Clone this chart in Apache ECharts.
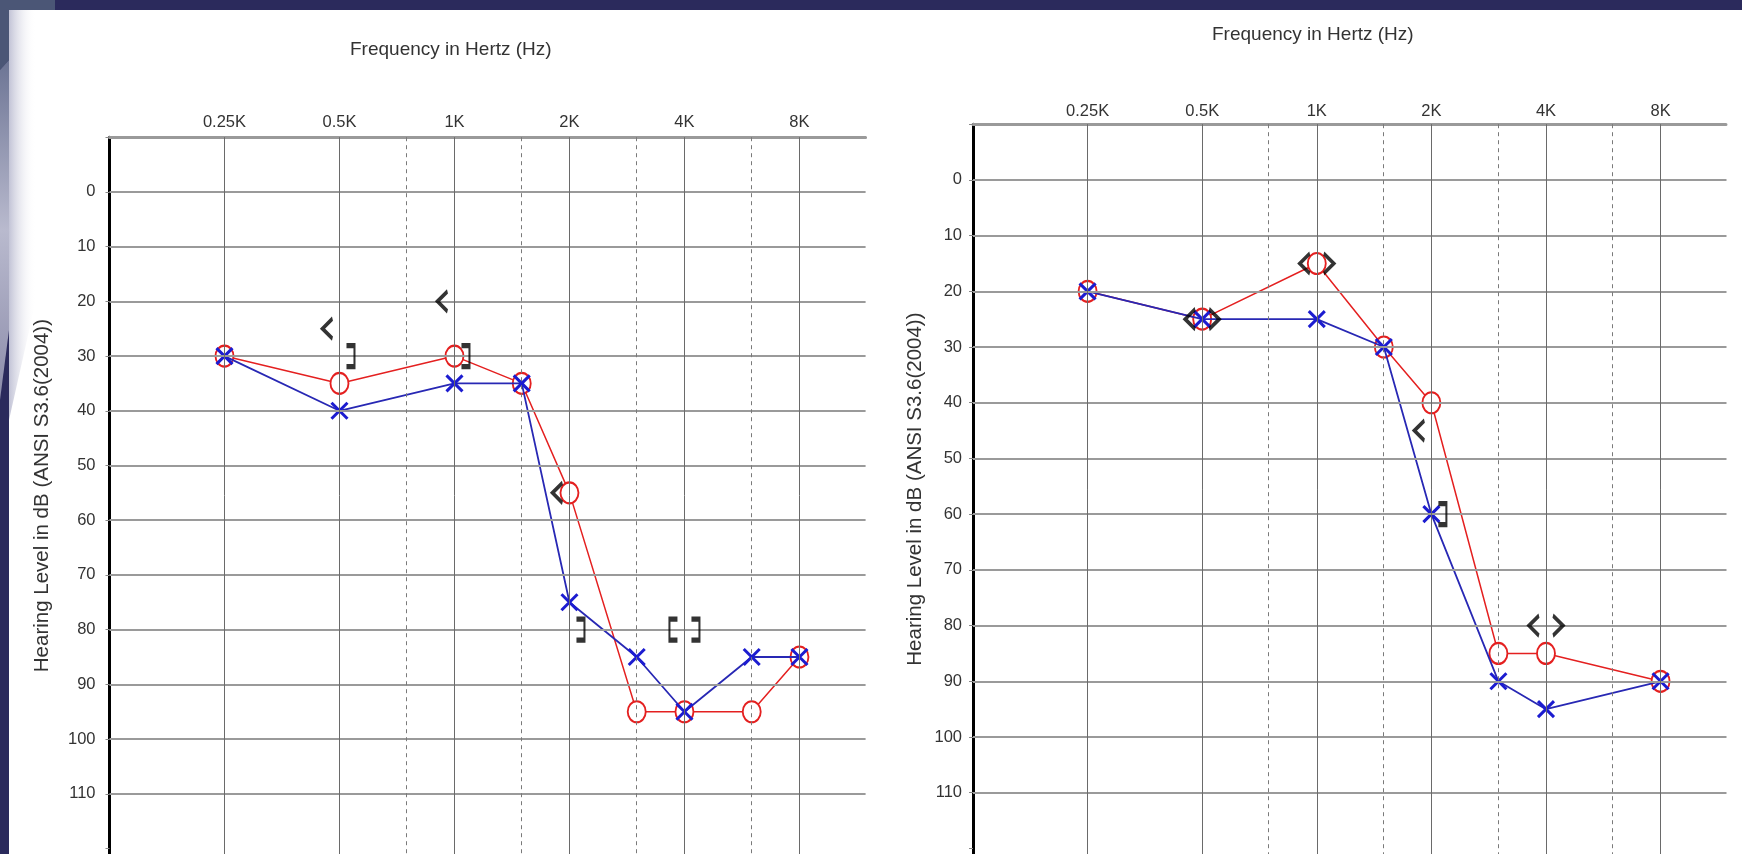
<!DOCTYPE html>
<html><head><meta charset="utf-8">
<script src="https://cdn.jsdelivr.net/npm/echarts@6/dist/echarts.min.js"></script>
<style>html,body{margin:0;padding:0;background:#fff;overflow:hidden}#c{width:1742px;height:854px}</style>
</head><body><div id="c"></div>
<script>
// ---- data ----
const freqTicks = [250, 500, 1000, 2000, 4000, 8000];
const freqHalf = [750, 1500, 3000, 6000];
const dbLevels = [0, 10, 20, 30, 40, 50, 60, 70, 80, 90, 100, 110];
const axisTitleX = 'Frequency in Hertz (Hz)';
const axisTitleY = 'Hearing Level in dB (ANSI S3.6(2004))';

const leftFreqRed = [250, 500, 1000, 1500, 2000, 3000, 4000, 6000, 8000];
const leftRed = [30, 35, 30, 35, 55, 95, 95, 95, 85];
const leftFreqBlue = [250, 500, 1000, 1500, 2000, 3000, 4000, 6000, 8000];
const leftBlue = [30, 40, 35, 35, 75, 85, 95, 85, 85];
const leftBoneFreq = [500, 500, 1000, 1000, 2000, 2000, 4000, 4000];
const leftBoneDb = [25, 30, 20, 30, 55, 80, 80, 80];
const leftBoneMark = ['<', ']', '<', ']', '<', ']', '[', ']'];

const rightFreqRed = [250, 500, 1000, 1500, 2000, 3000, 4000, 8000];
const rightRed = [20, 25, 15, 30, 40, 85, 85, 90];
const rightFreqBlue = [250, 500, 1000, 1500, 2000, 3000, 4000, 8000];
const rightBlue = [20, 25, 25, 30, 60, 90, 95, 90];
const rightBoneFreq = [500, 500, 1000, 1000, 2000, 2000, 4000, 4000];
const rightBoneDb = [25, 25, 15, 15, 45, 60, 80, 80];
const rightBoneMark = ['<', '>', '<', '>', '<', ']', '<', '>'];

// ---- helpers ----
const FMIN = 125, FMAX = 11920;
const oct = f => Math.log2(f / 1000);
const FONT = 'Liberation Sans, Arial, sans-serif';

const boneShape = {
  '<': { path: 'path://M10,0L0,10L10,20', size: [10, 20], dx: -12 },
  '>': { path: 'path://M0,0L10,10L0,20', size: [10, 20], dx: 12 },
  '[': { path: 'path://M8,0L0,0L0,20L8,20', size: [8, 21], dx: -11 },
  ']': { path: 'path://M0,0L8,0L8,20L0,20', size: [8, 21], dx: 11 }
};

function pairs(fs, vs) { return fs.map((f, i) => [oct(f), vs[i]]); }

function gridLines(i) {
  return {
    type: 'line', xAxisIndex: i, yAxisIndex: i, data: [], silent: true, z: 1,
    markLine: {
      silent: true, symbol: ['none', 'none'], label: { show: false }, animation: false,
      emphasis: { disabled: true },
      data: [
        ...dbLevels.map(d => ({ yAxis: d, lineStyle: { color: '#9a9a9a', width: 2, type: 'solid' } })),
        ...freqTicks.map(f => ({ xAxis: oct(f), lineStyle: { color: '#6a6a6a', width: 1, type: 'solid' } })),
        ...freqHalf.map(f => ({ xAxis: oct(f), lineStyle: { color: '#7a7a7a', width: 1, type: [4, 4] } }))
      ]
    }
  };
}

function redSeries(i, fs, vs) {
  return {
    type: 'line', xAxisIndex: i, yAxisIndex: i, z: 3, data: pairs(fs, vs),
    symbol: 'emptyCircle', symbolSize: [18, 21],
    lineStyle: { color: '#e42020', width: 1.5 },
    itemStyle: { color: '#e42020', borderColor: '#e42020', borderWidth: 3 }
  };
}
function blueSeries(i, fs, vs) {
  return {
    type: 'line', xAxisIndex: i, yAxisIndex: i, z: 4, data: pairs(fs, vs),
    symbol: 'path://M0,0L10,10M10,0L0,10', symbolSize: 16,
    lineStyle: { color: '#2828b4', width: 1.8 },
    itemStyle: { color: 'rgba(0,0,0,0)', borderColor: '#1c1cd0', borderWidth: 3 }
  };
}
function boneSeries(i, fs, vs, ms) {
  return {
    type: 'scatter', xAxisIndex: i, yAxisIndex: i, z: 5,
    data: fs.map((f, k) => {
      const s = boneShape[ms[k]];
      return { value: [oct(f), vs[k]], symbol: s.path, symbolSize: s.size, symbolOffset: [s.dx, 0] };
    }),
    itemStyle: { color: 'rgba(0,0,0,0)', borderColor: '#000', borderWidth: 3.3 }
  };
}

function xAxis(i, margin) {
  return {
    type: 'value', gridIndex: i, position: 'top', min: oct(FMIN), max: oct(FMAX), interval: 1,
    axisLine: { show: true, onZero: false, lineStyle: { color: '#9a9a9a', width: 3, type: [1, 1] } },
    axisTick: { show: false }, splitLine: { show: false },
    axisLabel: {
      color: '#333', fontSize: 16.5, fontFamily: FONT, margin: margin,
      formatter: v => { const f = Math.round(1000 * Math.pow(2, v)); return freqTicks.includes(f) ? (f / 1000) + 'K' : ''; }
    }
  };
}
function yAxis(i, margin, gap) {
  return {
    type: 'value', gridIndex: i, inverse: true, min: -10, max: 121, interval: 10,
    axisLine: { show: true, onZero: false, lineStyle: { color: '#000', width: 3 } },
    axisTick: { show: true, length: 4, lineStyle: { color: '#888' } },
    splitLine: { show: false },
    axisLabel: { color: '#333', fontSize: 16.5, fontFamily: FONT, margin: margin,
      formatter: v => dbLevels.includes(v) ? String(v) : '' },
    name: axisTitleY, nameLocation: 'middle', nameRotate: 90, nameGap: gap,
    nameTextStyle: { color: '#333', fontSize: 20.5, fontFamily: FONT }
  };
}

const chart = echarts.init(document.getElementById('c'), null, { renderer: 'canvas' });
chart.setOption({
  animation: false,
  backgroundColor: '#fff',
  textStyle: { fontFamily: FONT },
  title: [
    { text: axisTitleX, left: 345, top: 35, textStyle: { fontSize: 19, fontWeight: 'normal', color: '#333', fontFamily: FONT } },
    { text: axisTitleX, left: 1207, top: 20, textStyle: { fontSize: 19, fontWeight: 'normal', color: '#333', fontFamily: FONT } }
  ],
  grid: [
    { left: 109.5, right: 876.4, top: 137.2, height: 717.9 },
    { left: 973, right: 15.5, top: 124.2, height: 731 }
  ],
  xAxis: [xAxis(0, 6), xAxis(1, 4)],
  yAxis: [yAxis(0, 14, 57), yAxis(1, 11, 47)],
  graphic: [
    { type: 'rect', shape: { x: 0, y: 0, width: 1742, height: 10 }, style: { fill: '#2b2a5c' }, silent: true },
    { type: 'polygon', shape: { points: [[9, 10], [36, 10], [36, 300], [9, 420]] },
      style: { fill: { type: 'linear', x: 0, y: 0, x2: 1, y2: 0, colorStops: [{ offset: 0, color: '#c2c3d6' }, { offset: 1, color: 'rgba(255,255,255,0)' }] } }, silent: true },
    { type: 'rect', shape: { x: 0, y: 0, width: 9, height: 854 }, style: { fill: '#2b2a5c' }, silent: true },
    { type: 'polygon', shape: { points: [[0, 0], [55, 0], [55, 10], [9, 10], [9, 60], [0, 70]] }, style: { fill: '#4b5676' }, silent: true },
    { type: 'polygon', shape: { points: [[0, 70], [9, 60], [9, 330], [0, 400]] },
      style: { fill: { type: 'linear', x: 0, y: 0, x2: 0, y2: 1, colorStops: [{ offset: 0, color: '#6c7494' }, { offset: 0.5, color: '#b9bace' }, { offset: 1, color: '#8c8caa' }] } }, silent: true }
  ],
  series: [
    gridLines(0), redSeries(0, leftFreqRed, leftRed), blueSeries(0, leftFreqBlue, leftBlue), boneSeries(0, leftBoneFreq, leftBoneDb, leftBoneMark),
    gridLines(1), redSeries(1, rightFreqRed, rightRed), blueSeries(1, rightFreqBlue, rightBlue), boneSeries(1, rightBoneFreq, rightBoneDb, rightBoneMark)
  ]
});
</script>
</body></html>
